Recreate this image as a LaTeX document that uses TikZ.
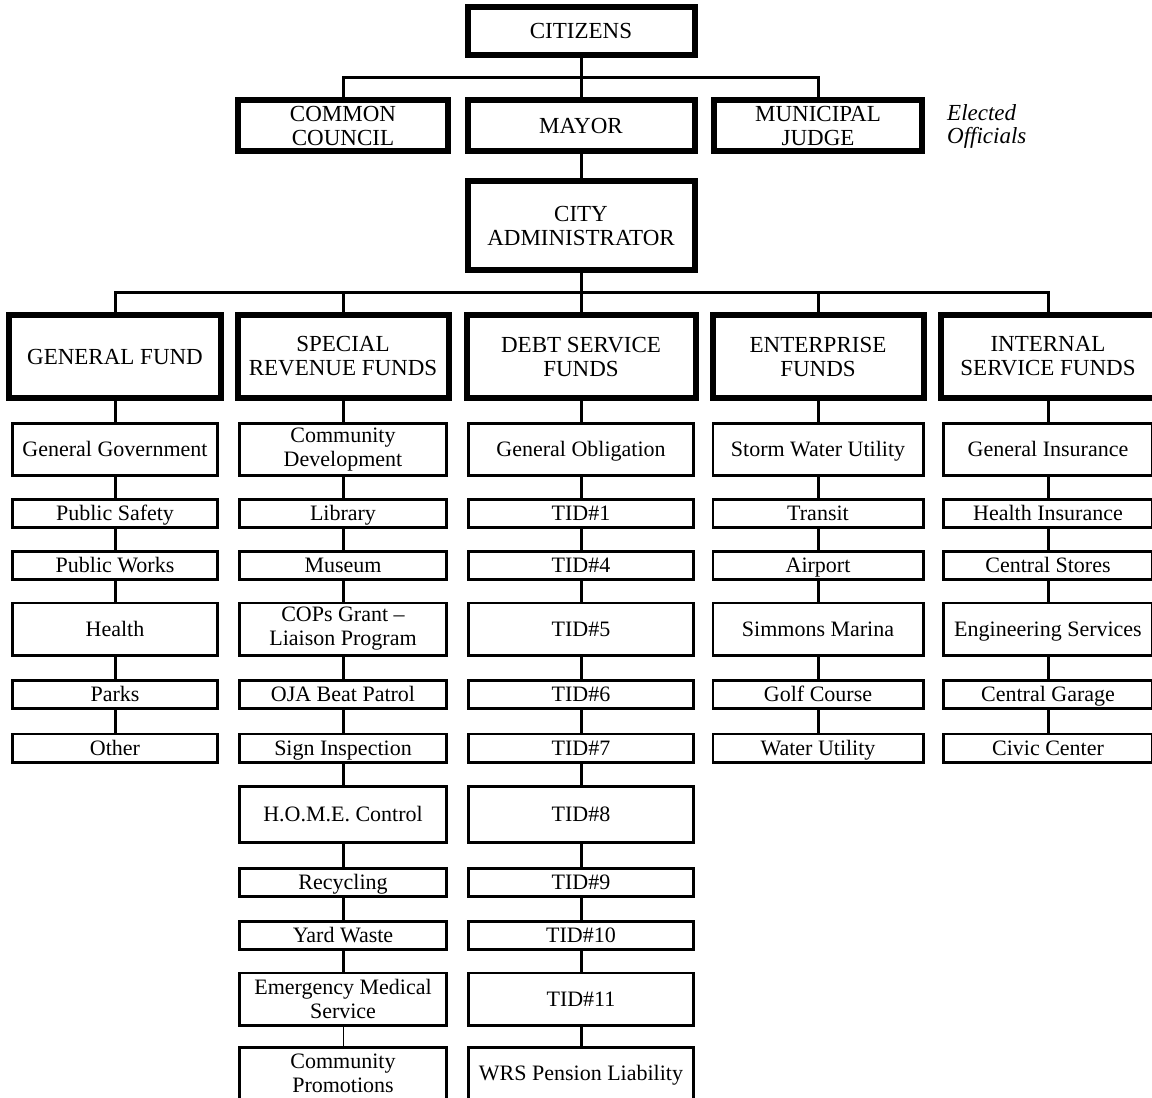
\documentclass[tikz,border=0pt]{standalone}
\usepackage{fontspec}
\setmainfont{Liberation Serif}
\usepackage{tikz}
\usetikzlibrary{positioning,calc}
\tikzset{headbox/.style={rectangle, draw=black, line width=6pt, fill=white,
    align=center, inner sep=0pt, text centered,
    font=\fontsize{23}{24}\selectfont},
  itembox/.style={rectangle, draw=black, line width=2.6pt, fill=white,
    align=center, inner sep=0pt, text centered,
    text height=16.5pt, text depth=2pt,
    font=\fontsize{22}{24}\selectfont},
  multi/.style={text height=, text depth=},
  smallbox/.style={itembox, minimum height=28.4pt},
  bigbox/.style={itembox, minimum height=52.4pt},
  conn/.style={-, line width=3pt},
  thinconn/.style={-, line width=1pt}
}

\begin{document}
\begin{tikzpicture}[x=1pt, y=-1pt]
   \useasboundingbox (0,0) rectangle (1152,1098);

   %Elected officials
   \node (citizens) [headbox, minimum width=227pt, minimum height=48pt] at (581,31) {CITIZENS};
   \node (council) [headbox, minimum width=210pt, minimum height=51pt] at (343,125.5) {COMMON\\COUNCIL};
   \node (mayor) [headbox, minimum width=227pt, minimum height=51pt] at (581,125.5) {MAYOR};
   \node (judge) [headbox, minimum width=208pt, minimum height=51pt] at (818,125.5) {MUNICIPAL\\JUDGE};
   \node (elected) [anchor=west, align=left, inner sep=0pt,
      font=\fontsize{23}{23}\selectfont\itshape] at (947,126) {Elected\\Officials};
   \node (admin) [headbox, minimum width=227pt, minimum height=89pt] at (581,225.5) {CITY\\ADMINISTRATOR};

   \coordinate (topbar) at (581,77);
   \coordinate (fundbar) at (581,292);

   %Fund nodes
   \node (genfund) [headbox, minimum width=212pt, minimum height=83pt] at (115,356.5) {GENERAL FUND};
   \node (spfund) [headbox, minimum width=211pt, minimum height=83pt] at (343,356.5) {SPECIAL\\REVENUE FUNDS};
   \node (debtfund) [headbox, minimum width=229pt, minimum height=83pt] at (581,356.5) {DEBT SERVICE\\FUNDS};
   \node (entfund) [headbox, minimum width=211pt, minimum height=83pt] at (818,356.5) {ENTERPRISE\\FUNDS};
   \node (intfund) [headbox, minimum width=214pt, minimum height=83pt] at (1048,356.5) {INTERNAL\\SERVICE FUNDS};

   %General fund column
   \begin{scope}[every node/.append style={minimum width=205.4pt}]
   \node (gf1) [bigbox] at (115,449.5) {General Government};
   \node (gf2) [smallbox] at (115,513.5) {Public Safety};
   \node (gf3) [smallbox] at (115,565.5) {Public Works};
   \node (gf4) [bigbox] at (115,629) {Health};
   \node (gf5) [smallbox] at (115,694.5) {Parks};
   \node (gf6) [smallbox] at (115,748) {Other};
   \end{scope}

   %Special revenue column
   \begin{scope}[every node/.append style={minimum width=207.4pt}]
   \node (sr1) [bigbox, multi] at (343,449.5) {Community\\Development};
   \node (sr2) [smallbox] at (343,513.5) {Library};
   \node (sr3) [smallbox] at (343,565.5) {Museum};
   \node (sr4) [bigbox, multi] at (343,629) {COPs Grant --\\Liaison Program};
   \node (sr5) [smallbox] at (343,694.5) {OJA Beat Patrol};
   \node (sr6) [smallbox] at (343,748) {Sign Inspection};
   \node (sr7) [bigbox, minimum height=56.4pt] at (343,814.5) {H.O.M.E. Control};
   \node (sr8) [smallbox] at (343,882.5) {Recycling};
   \node (sr9) [smallbox] at (343,935.5) {Yard Waste};
   \node (sr10) [bigbox, multi] at (343,999) {Emergency Medical\\Service};
   \node (sr11) [bigbox, multi] at (343,1073.5) {Community\\Promotions};
   \end{scope}

   %Debt service column
   \begin{scope}[every node/.append style={minimum width=225.4pt}]
   \node (ds1) [bigbox] at (581,449.5) {General Obligation};
   \node (ds2) [smallbox] at (581,513.5) {TID\#1};
   \node (ds3) [smallbox] at (581,565.5) {TID\#4};
   \node (ds4) [bigbox] at (581,629) {TID\#5};
   \node (ds5) [smallbox] at (581,694.5) {TID\#6};
   \node (ds6) [smallbox] at (581,748) {TID\#7};
   \node (ds7) [bigbox, minimum height=56.4pt] at (581,814.5) {TID\#8};
   \node (ds8) [smallbox] at (581,882.5) {TID\#9};
   \node (ds9) [smallbox] at (581,935.5) {TID\#10};
   \node (ds10) [bigbox] at (581,999) {TID\#11};
   \node (ds11) [bigbox] at (581,1073.5) {WRS Pension Liability};
   \end{scope}

   %Enterprise column
   \begin{scope}[every node/.append style={minimum width=210.4pt}]
   \node (ef1) [bigbox] at (818,449.5) {Storm Water Utility};
   \node (ef2) [smallbox] at (818,513.5) {Transit};
   \node (ef3) [smallbox] at (818,565.5) {Airport};
   \node (ef4) [bigbox] at (818,629) {Simmons Marina};
   \node (ef5) [smallbox] at (818,694.5) {Golf Course};
   \node (ef6) [smallbox] at (818,748) {Water Utility};
   \end{scope}

   %Internal service column
   \begin{scope}[every node/.append style={minimum width=209.4pt}]
   \node (is1) [bigbox] at (1048,449.5) {General Insurance};
   \node (is2) [smallbox] at (1048,513.5) {Health Insurance};
   \node (is3) [smallbox] at (1048,565.5) {Central Stores};
   \node (is4) [bigbox] at (1048,629) {Engineering Services};
   \node (is5) [smallbox] at (1048,694.5) {Central Garage};
   \node (is6) [smallbox] at (1048,748) {Civic Center};
   \end{scope}

   %Connectors
   \draw [conn] (citizens) -- (mayor) -- (admin) -- (debtfund);
   \draw [conn] (council.north) |- (topbar) -| (judge.north);
   \draw [conn] (genfund.north) |- (fundbar) -| (intfund.north);
   \draw [conn] (spfund.north) |- (fundbar);
   \draw [conn] (entfund.north) |- (fundbar);

   \draw [conn] (genfund) -- (gf1) -- (gf2) -- (gf3) -- (gf4) -- (gf5) -- (gf6);
   \draw [conn] (spfund) -- (sr1) -- (sr2) -- (sr3) -- (sr4) -- (sr5) -- (sr6)
      -- (sr7) -- (sr8) -- (sr9) -- (sr10);
   \draw [thinconn] (sr10) -- (sr11);
   \draw [conn] (debtfund) -- (ds1) -- (ds2) -- (ds3) -- (ds4) -- (ds5) -- (ds6)
      -- (ds7) -- (ds8) -- (ds9) -- (ds10) -- (ds11);
   \draw [conn] (entfund) -- (ef1) -- (ef2) -- (ef3) -- (ef4) -- (ef5) -- (ef6);
   \draw [conn] (intfund) -- (is1) -- (is2) -- (is3) -- (is4) -- (is5) -- (is6);

\end{tikzpicture}
\end{document}
